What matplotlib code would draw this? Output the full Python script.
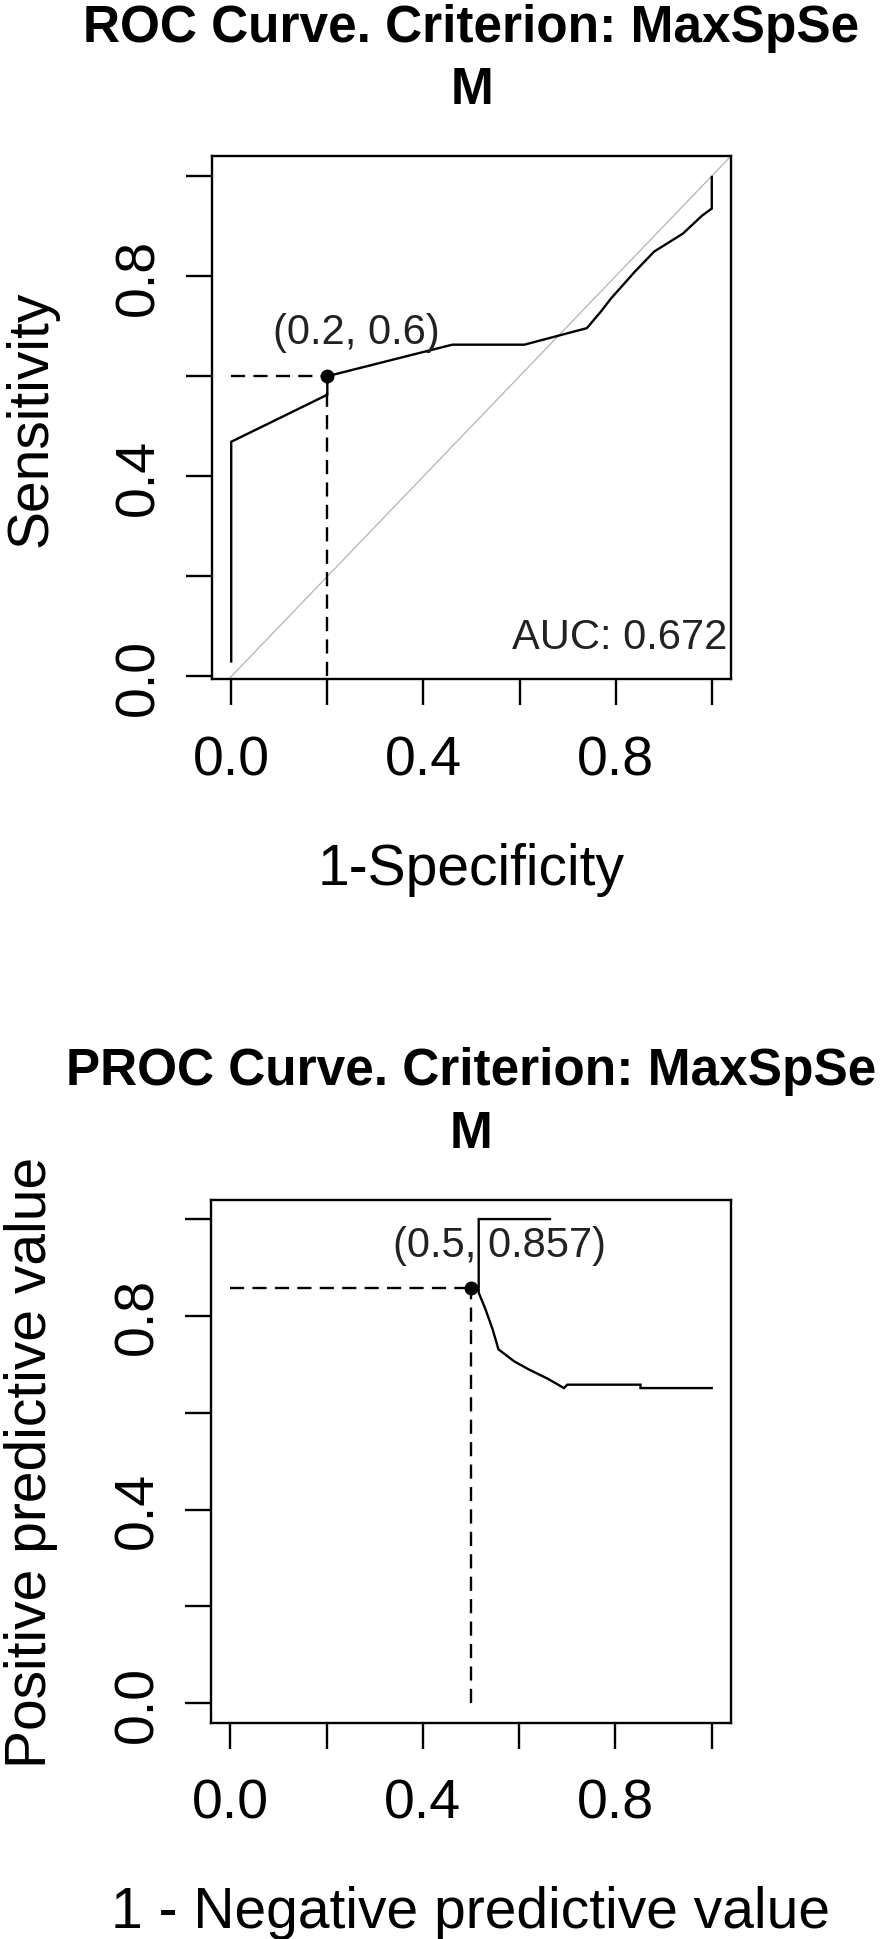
import matplotlib.pyplot as plt

plt.rcParams["font.family"] = ["Liberation Sans", "DejaVu Sans"]

# ROC curve: 1-specificity vs sensitivity
roc_fpr = [0.0, 0.0, 0.2, 0.2, 0.46, 0.61, 0.74, 0.77, 0.79, 0.84, 0.88, 0.94, 0.98, 1.0, 1.0]
roc_tpr = [0.03, 0.469, 0.563, 0.6, 0.663, 0.663, 0.696, 0.73, 0.755, 0.809, 0.849, 0.885, 0.921, 0.935, 0.998]
roc_cut = (0.2, 0.6)
roc_auc = 0.672

# PROC curve: 1-NPV vs PPV
proc_x = [0.664, 0.516, 0.516, 0.53, 0.545, 0.557, 0.59, 0.621, 0.66, 0.693, 0.70, 0.852, 0.852, 1.0]
proc_y = [1.0, 1.0, 0.848, 0.814, 0.772, 0.731, 0.706, 0.689, 0.67, 0.651, 0.658, 0.658, 0.651, 0.651]
proc_cut = (0.5, 0.857)

tick_vals = [0.0, 0.2, 0.4, 0.6, 0.8, 1.0]
tick_labels = ["0.0", "", "0.4", "", "0.8", ""]

W, H = 894, 1940
LW = 1.7
DASH = (0, (6, 3.5))


def fx(px):
    return px / W


def fy(py):
    return 1 - py / H


def style_axes(ax, ylim):
    ax.set_xlim(-0.04, 1.04)
    ax.set_ylim(*ylim)
    for sp in ax.spines.values():
        sp.set_linewidth(LW)
    ax.set_xticks(tick_vals)
    ax.set_xticklabels(tick_labels)
    ax.set_yticks(tick_vals)
    ax.set_yticklabels(tick_labels, rotation=90, va="center")
    ax.tick_params(direction="out", length=18.7, width=LW, labelsize=40)
    ax.tick_params(axis="x", pad=21)
    ax.tick_params(axis="y", pad=15)


def draw_curve(ax, x, y, cut, label):
    ax.plot(x, y, color="black", lw=LW, solid_joinstyle="miter")
    ax.plot([0, cut[0]], [cut[1], cut[1]], color="black", lw=LW, linestyle=DASH)
    ax.plot([cut[0], cut[0]], [0, cut[1]], color="black", lw=LW, linestyle=DASH)
    ax.plot(cut[0], cut[1], "o", color="black", markersize=9)
    ax.text(cut[0] + 0.06, cut[1] + 0.066, label, fontsize=30,
            ha="center", va="baseline", color="#222222")


def titles(top, title, xlabel, ylabel, cx, cy):
    fig.text(fx(cx), fy(top + 42), title, ha="center", va="baseline",
             fontsize=37, fontweight="bold")
    fig.text(fx(cx), fy(top + 104), "M", ha="center", va="baseline",
             fontsize=37, fontweight="bold")
    fig.text(fx(cx), fy(top + 885), xlabel, ha="center", va="baseline", fontsize=41)
    fig.text(fx(31), fy(cy), ylabel, ha="center", va="center", rotation=90, fontsize=41)


fig = plt.figure(figsize=(W / 100, H / 100), dpi=100)

# top panel: ROC
ax1 = fig.add_axes([fx(212), fy(680), 519 / W, 523 / H])
ax1.axline((0, 0), slope=1, color="#b4b4b4", lw=0.9)
draw_curve(ax1, roc_fpr, roc_tpr, roc_cut, f"({roc_cut[0]}, {roc_cut[1]})")
ax1.text(1.033, 0.056, f"AUC: {roc_auc}", fontsize=30, ha="right", va="baseline", color="#222222")
style_axes(ax1, (-0.005, 1.04))
titles(0, "ROC Curve. Criterion: MaxSpSe", "1-Specificity", "Sensitivity", 471.5, 418.5)

# bottom panel: PROC
ax2 = fig.add_axes([fx(211), fy(1723.7), 520 / W, 523 / H])
draw_curve(ax2, proc_x, proc_y, proc_cut, f"({proc_cut[0]}, {proc_cut[1]})")
style_axes(ax2, (-0.04, 1.04))
titles(1043.5, "PROC Curve. Criterion: MaxSpSe", "1 - Negative predictive value",
       "Positive predictive value", 471, 1462)

fig.savefig("out.png", dpi=100)
